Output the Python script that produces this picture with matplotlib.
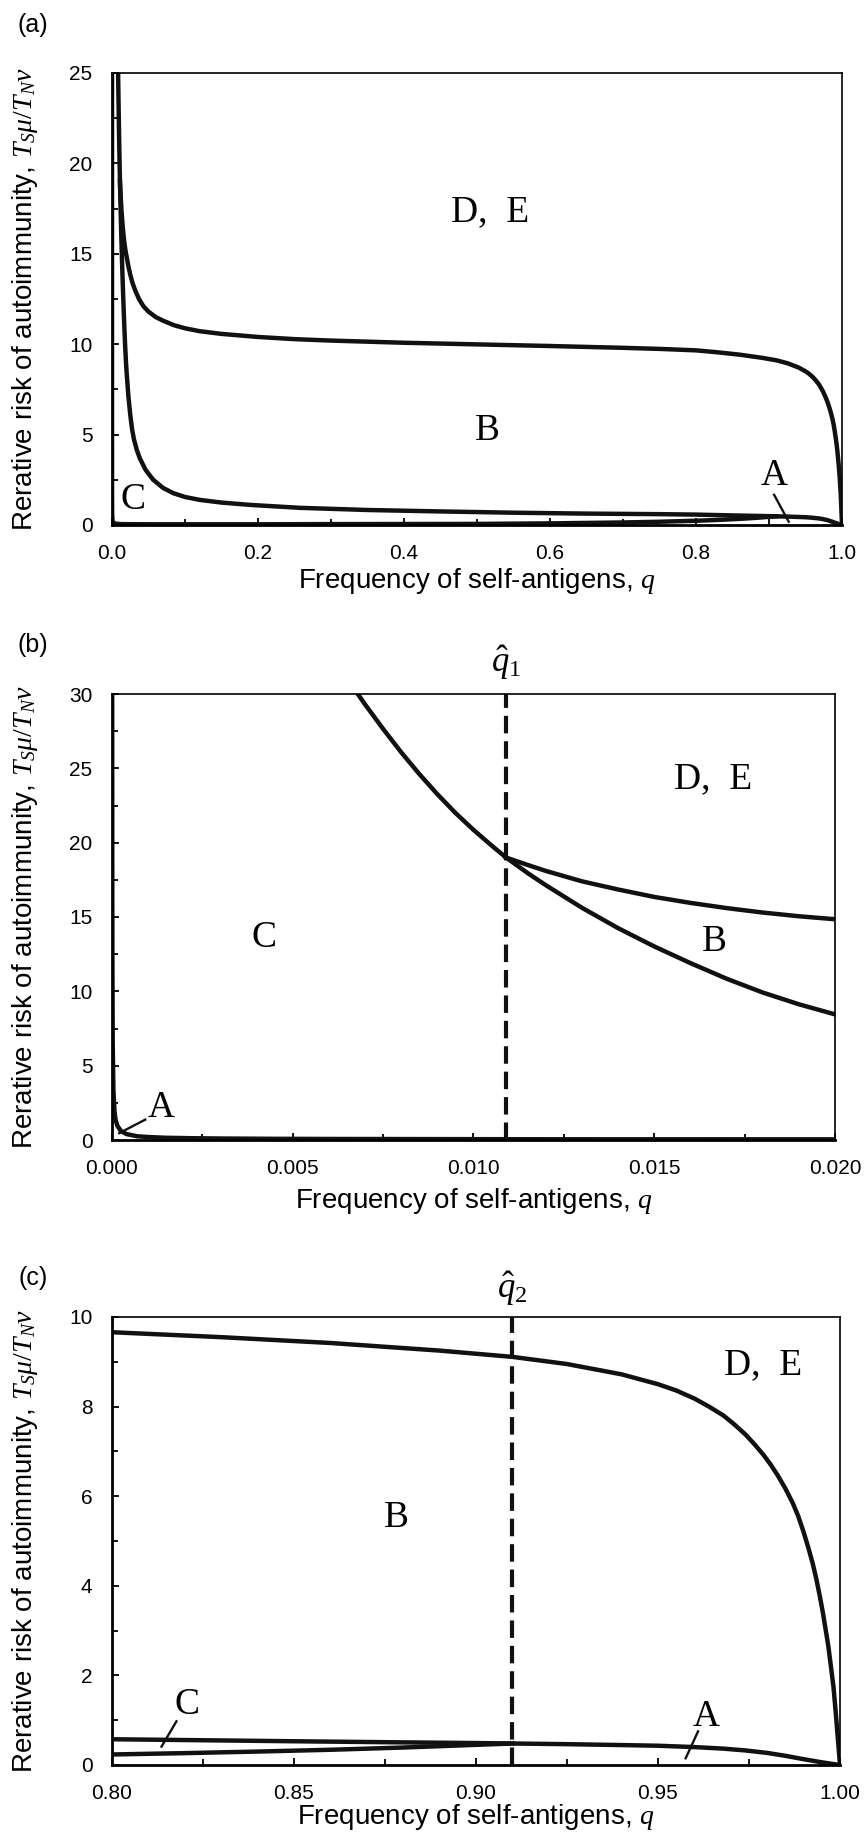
import matplotlib
matplotlib.use("Agg")
import matplotlib.pyplot as plt
from matplotlib.ticker import MultipleLocator, FormatStrFormatter

plt.rcParams['font.family'] = ['Liberation Sans', 'DejaVu Sans']
plt.rcParams['mathtext.fontset'] = 'custom'
plt.rcParams['mathtext.rm'] = 'Liberation Serif'
plt.rcParams['mathtext.it'] = 'Liberation Serif:italic'
plt.rcParams['mathtext.bf'] = 'Liberation Serif:bold'

# boundary between C and B (continues as the upper A boundary past q_hat2)
curve_c_q = [0.0062, 0.0065, 0.0068, 0.0070, 0.0075, 0.0080, 0.0085, 0.0090, 0.0095,
             0.0100, 0.0105, 0.0109, 0.0115, 0.0120, 0.0130, 0.0140, 0.0150, 0.0160,
             0.0170, 0.0180, 0.0190, 0.0200, 0.0225, 0.0250, 0.0275, 0.0300, 0.0340,
             0.0380, 0.0460, 0.0565, 0.0700, 0.0840, 0.1000, 0.1200, 0.1500, 0.1900,
             0.2570, 0.3500, 0.4500, 0.5500, 0.6500, 0.7500, 0.8000, 0.8500, 0.8800,
             0.9000, 0.9100, 0.9250, 0.9400, 0.9500, 0.9600, 0.9680, 0.9740, 0.9800,
             0.9850, 0.9900, 0.9950, 1.0000]
curve_c_y = [32.8, 31.3, 30.0, 29.3, 27.65, 26.08, 24.62, 23.26, 22.0,
             20.86, 19.81, 19.0, 17.95, 17.14, 15.62, 14.25, 13.02, 11.9,
             10.85, 9.92, 9.13, 8.45, 7.1, 6.1, 5.3, 4.75, 4.15,
             3.7, 3.05, 2.5, 2.05, 1.76, 1.55, 1.39, 1.24, 1.11,
             0.95, 0.83, 0.75, 0.68, 0.63, 0.60, 0.575, 0.53, 0.505,
             0.49, 0.48, 0.465, 0.445, 0.43, 0.40, 0.365, 0.325, 0.27,
             0.205, 0.13, 0.06, 0.0]

# boundary between B and D, E
curve_u_q = [0.0109, 0.0115, 0.0120, 0.0130, 0.0140, 0.0150, 0.0160, 0.0170, 0.0180,
             0.0190, 0.0200, 0.0225, 0.0250, 0.0280, 0.0320, 0.0370, 0.0430, 0.0500,
             0.0600, 0.0700, 0.0850, 0.1000, 0.1200, 0.1500, 0.2000, 0.2500, 0.3000,
             0.4000, 0.5000, 0.6000, 0.7000, 0.7500, 0.8000, 0.8300, 0.8600, 0.8900,
             0.9100, 0.9250, 0.9400, 0.9500, 0.9550, 0.9600, 0.9640, 0.9680, 0.9710,
             0.9740, 0.9765, 0.9790, 0.9810, 0.9830, 0.9850, 0.9870, 0.9885, 0.9900,
             0.9913, 0.9925, 0.9935, 0.9945, 0.9953, 0.9960, 0.9968, 0.9975, 0.9982,
             0.9988, 0.9994, 1.0000]
curve_u_y = [19.0, 18.5, 18.1, 17.4, 16.85, 16.35, 15.95, 15.6, 15.3,
             15.05, 14.85, 14.3, 13.85, 13.4, 12.95, 12.5, 12.1, 11.8,
             11.5, 11.3, 11.05, 10.88, 10.72, 10.57, 10.4, 10.28, 10.2,
             10.08, 9.99, 9.9, 9.8, 9.74, 9.66, 9.55, 9.42, 9.25,
             9.11, 8.95, 8.72, 8.5, 8.36, 8.18, 8.0, 7.8, 7.6,
             7.38, 7.16, 6.92, 6.7, 6.45, 6.17, 5.85, 5.56, 5.2,
             4.85, 4.5, 4.15, 3.75, 3.4, 3.05, 2.65, 2.2, 1.75,
             1.2, 0.6, 0.0]

# lower boundary of A
curve_a_q = [0.000004, 0.00001, 0.00002, 0.00004, 0.00007, 0.0001, 0.00015, 0.00025,
             0.0004, 0.0007, 0.0010, 0.0015, 0.0022, 0.003, 0.0045, 0.006, 0.009, 0.012,
             0.016, 0.02, 0.05, 0.1, 0.2, 0.3, 0.4, 0.5, 0.6, 0.7, 0.75, 0.80, 0.82,
             0.84, 0.86, 0.88, 0.89, 0.90, 0.91]
curve_a_y = [32.0, 13.0, 6.5, 3.3, 1.9, 1.35, 0.95, 0.6,
             0.4, 0.25, 0.2, 0.15, 0.12, 0.1, 0.08, 0.07, 0.06, 0.05,
             0.047, 0.045, 0.04, 0.04, 0.04, 0.05, 0.055, 0.06, 0.09, 0.14, 0.18, 0.235, 0.265,
             0.30, 0.34, 0.39, 0.42, 0.45, 0.48]

q_hat1 = 0.0109
q_hat2 = 0.910

# panel settings
panels = [
    dict(name='(a)', rect=[112, 73, 842, 525], xlim=(0, 1), ylim=(0, 25),
         xmaj=0.2, xmin=0.1, ymaj=5, ymin=2.5, xfmt='%.1f',
         label_y=25, xlab_base=588, qhat=None,
         regions=[('D,  E', 0.518, 17.3), ('B', 0.514, 5.24), ('C', 0.029, 1.38), ('A', 0.907, 2.7)],
         pointers=[((0.907, 1.67), (0.927, 0.18))]),
    dict(name='(b)', rect=[112, 694, 835, 1140], xlim=(0, 0.02), ylim=(0, 30),
         xmaj=0.005, xmin=0.0025, ymaj=5, ymin=2.5, xfmt='%.3f',
         label_y=645, xlab_base=1208, qhat=(q_hat1, r'$\hat{q}_{\mathrm{1}}$', 31.5),
         regions=[('D,  E', 0.01664, 24.3), ('C', 0.0042, 13.6), ('B', 0.01667, 13.36), ('A', 0.00137, 2.14)],
         pointers=[((0.00092, 1.37), (0.0002, 0.46))]),
    dict(name='(c)', rect=[112, 1317, 840, 1765], xlim=(0.8, 1.0), ylim=(0, 10),
         xmaj=0.05, xmin=0.025, ymaj=2, ymin=1, xfmt='%.2f',
         label_y=1278, xlab_base=1824, qhat=(q_hat2, r'$\hat{q}_{\mathrm{2}}$', 10.42),
         regions=[('D,  E', 0.979, 8.92), ('B', 0.878, 5.53), ('C', 0.8205, 1.34), ('A', 0.9633, 1.08)],
         pointers=[((0.8177, 0.975), (0.8136, 0.41)), ((0.961, 0.75), (0.9576, 0.15))]),
]

W, H = 864, 1836
fig = plt.figure(figsize=(W / 100, H / 100), dpi=100)

for p in panels:
    x0, y0, x1, y1 = p['rect']
    ax = fig.add_axes([x0 / W, 1 - y1 / H, (x1 - x0) / W, (y1 - y0) / H])
    lw = 3.2
    ax.plot(curve_a_q, curve_a_y, color='#111111', lw=lw, solid_joinstyle='round')
    ax.plot(curve_c_q, curve_c_y, color='#111111', lw=lw, solid_joinstyle='round')
    ax.plot(curve_u_q, curve_u_y, color='#111111', lw=lw, solid_joinstyle='round')
    if p['qhat'] is not None:
        qv, qlab, qy = p['qhat']
        ax.axvline(qv, color='#111111', lw=3.0, dashes=(4.2, 1.9))
        ax.text(qv, qy, qlab, ha='center', va='baseline', fontsize=25, clip_on=False)
    ax.set_xlim(*p['xlim'])
    ax.set_ylim(*p['ylim'])
    ax.xaxis.set_major_locator(MultipleLocator(p['xmaj']))
    ax.xaxis.set_minor_locator(MultipleLocator(p['xmin']))
    ax.yaxis.set_major_locator(MultipleLocator(p['ymaj']))
    ax.yaxis.set_minor_locator(MultipleLocator(p['ymin']))
    ax.xaxis.set_major_formatter(FormatStrFormatter(p['xfmt']))
    ax.tick_params(which='both', direction='in', labelsize=15, width=1.3, pad=14)
    ax.tick_params(which='major', length=5)
    ax.tick_params(which='minor', length=4)
    for s in ['left', 'bottom']:
        ax.spines[s].set_linewidth(2.0)
    for s in ['top', 'right']:
        ax.spines[s].set_linewidth(1.2)

    for txt, tx, ty in p['regions']:
        ax.text(tx, ty, txt, ha='center', va='center', fontsize=27, family='Liberation Serif')
    for (ax0, ay0), (ax1, ay1) in p['pointers']:
        ax.plot([ax0, ax1], [ay0, ay1], color='#111111', lw=1.7)

    fig.text(33 / W, 1 - p['label_y'] / H, p['name'], ha='center', va='center', fontsize=18)
    fig.text(25 / W, 1 - (y0 + y1) / 2 / H,
             r'Rerative risk of autoimmunity, $T_S\mu/T_N\nu$',
             rotation=90, ha='center', va='center', fontsize=20)
    fig.text((x0 + x1) / 2 / W, 1 - p['xlab_base'] / H,
             r'Frequency of self-antigens, $q$', ha='center', va='baseline', fontsize=20)

fig.savefig('out.png', dpi=100)
